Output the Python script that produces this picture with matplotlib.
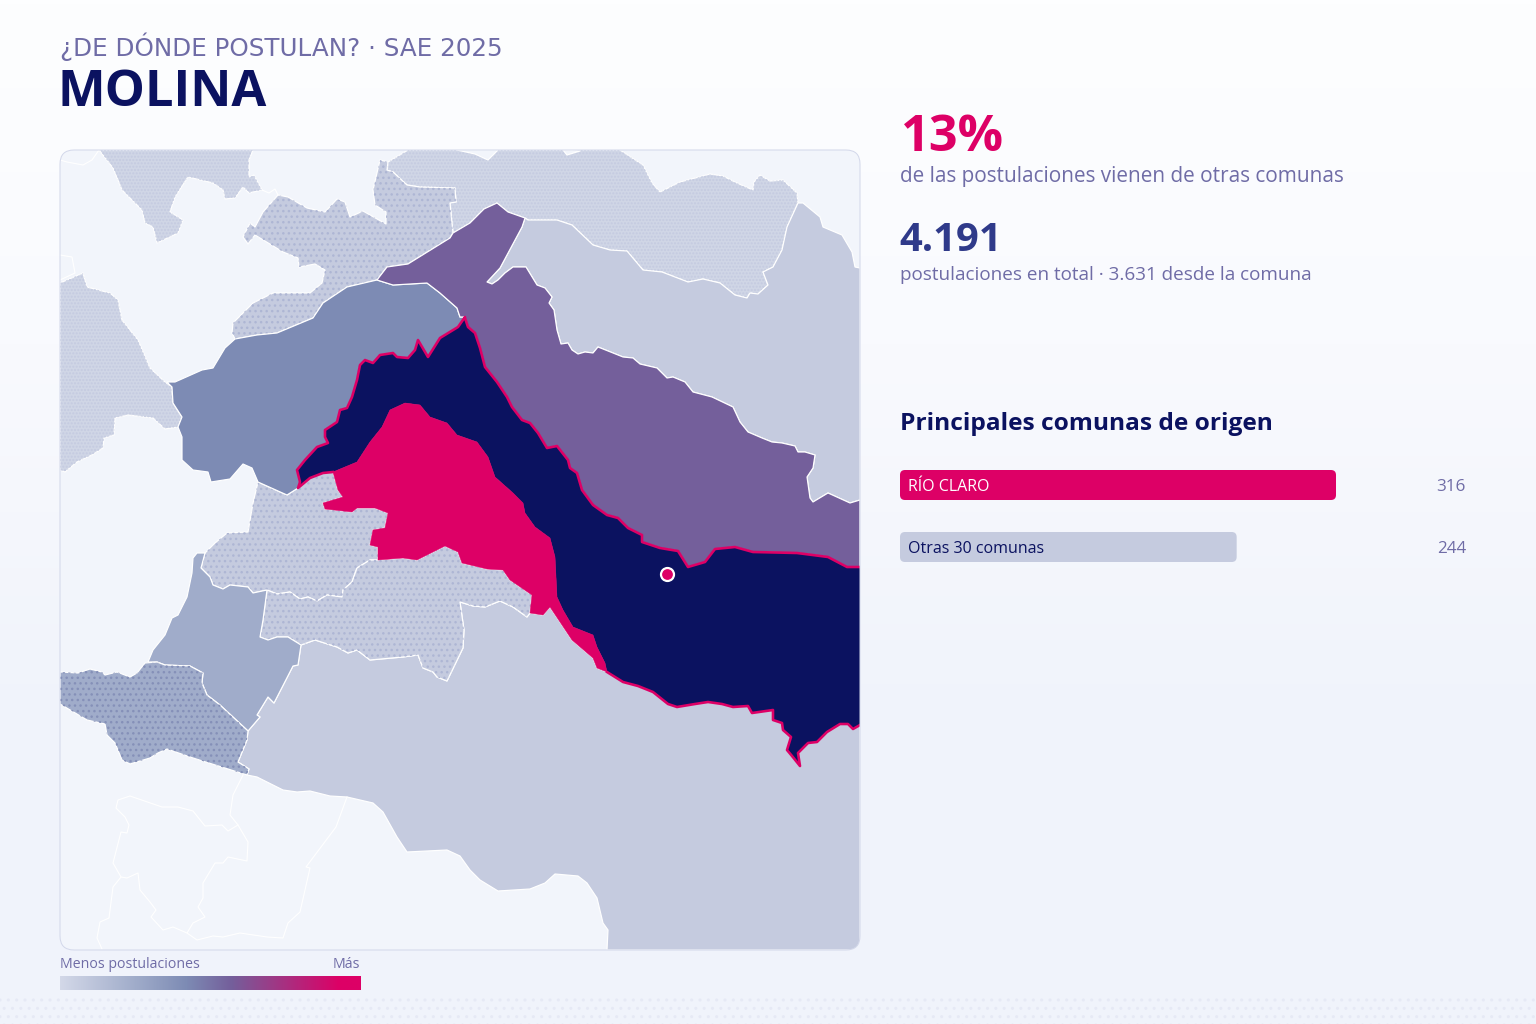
import matplotlib
matplotlib.use('Agg')
import matplotlib.pyplot as plt
import numpy as np
from matplotlib.patches import Polygon, FancyBboxPatch, Rectangle
from matplotlib.colors import LinearSegmentedColormap

# ── Datos ─────────────────────────────────────────────────────────────────────
origin_names = ['RÍO CLARO', 'Otras 30 comunas']
origin_values = [316, 244]
pct_outside = '13%'
total_apps = '4.191'
legend_stops = [(0, '#d3d8e8'), (0.25, '#a0acca'), (0.42, '#7d8bb4'), (0.57, '#745f9b'), (0.93, '#dd0066'), (1, '#dd0066')]

# Fronteras compartidas (coordenadas de imagen)
b_navy_purple = [(465,318),(468,327),(475,333),(480,348),(485,367),(497,382),(507,397),(512,407),(522,420),(530,423),
                 (538,433),(547,448),(557,446),(568,460),(570,468),(577,473),(582,490),(593,505),(607,515),(618,518),
                 (628,528),(642,535),(642,542),(660,548),(678,551),(688,567),(705,562),(715,549),(735,547),(753,552),
                 (797,553),(828,557),(847,567),(860,567)]
b_navy_blue = [(465,317),(458,327),(440,338),(428,357),(418,340),(415,350),(408,358),(397,357),(393,353),(380,355),
               (373,363),(365,360),(360,365),(357,380),(352,397),(347,408),(340,410),(337,422),(325,430),(325,437),
               (328,443),(317,447),(305,460),(297,470),(300,482),(298,488)]
b_navy_dotted = [(298,488),(310,478),(323,473),(333,472)]
b_navy_pink = [(333,472),(357,462),(370,442),(382,427),(390,410),(405,403),(420,405),(430,417),(447,423),(457,435),
               (477,442),(488,457),(495,477),(513,493),(523,503),(525,513),(535,527),(550,538),(555,557),(557,597),
               (563,610),(573,627),(593,635),(597,647),(605,663),(607,672)]
b_navy_bottom = [(607,672),(623,682),(638,686),(653,692),(668,704),(677,707),(695,704),(708,702),(722,704),(733,707),
                 (748,706),(752,713),(773,710),(773,720),(782,723),(783,730),(791,737),(787,750),(792,756),(800,766),
                 (798,753),(808,743),(817,742),(827,732),(840,724),(848,724),(853,729),(860,725)]
b_pink_dotted = [(333,472),(338,490),(343,497),(323,503),(325,509),(352,512),(357,508),(375,508),(388,513),(385,528),
                 (373,530),(370,545),(378,547),(378,560)]
b_pink_center = [(378,560),(403,558),(417,560),(433,552),(445,546),(458,552),(462,563),(487,569),(503,570),(510,580),
                 (532,595),(530,613)]
b_pink_big = [(530,613),(543,615),(550,607),(572,640),(593,658),(597,668),(607,672)]
b_center_big = [(530,613),(527,617),(513,607),(500,601),(485,607),(473,606),(460,602),(464,630),(463,648),(447,681),
                (437,677),(433,672),(423,668),(418,655),(403,657),(370,660),(357,650),(348,653),(337,647),(315,640),
                (301,645)]
b_center_mid = [(301,645),(288,637),(277,637),(268,640),(260,637),(263,620),(267,590)]
b_center_west = [(267,590),(277,594),(290,592),(300,599),(308,597),(317,601),(327,595),(342,597),(343,590),(352,582),
                 (357,568),(370,560),(378,560)]
b_west_mid = [(267,590),(253,593),(248,587),(230,585),(223,589),(213,585),(210,577),(201,568),(205,553)]
b_purple_right = [(860,500),(850,503),(828,493),(813,502),(810,498),(807,477),(813,468),(815,455),(805,452),(798,452),
                  (795,446),(782,443),(772,442),(762,438),(748,432),(740,422),(733,407),(712,397),(693,392),(685,382),
                  (673,377),(667,378),(657,368),(640,364),(633,358),(623,357),(598,347),(593,353),(585,352),(578,354),
                  (572,350),(568,343),(561,344),(557,330),(554,310),(549,303),(552,297),(545,288),(537,285),(526,267),
                  (513,267),(505,273),(498,280),(492,284),(487,282),(500,268),(522,227),(525,218)]
b_top_purple = [(525,218),(508,212),(497,203),(484,209),(470,223),(453,233)]
b_top_right = [(525,218),(528,220),(557,220),(572,225),(593,245),(610,250),(627,251),(643,270),(662,272),(688,282),
               (703,279),(720,283),(735,295),(747,298),(750,293),(758,294),(768,285),(763,272),(773,267),(782,250),
               (787,227),(798,203)]
b_upper_top = [(453,233),(450,203),(456,202),(455,188),(420,187),(407,185),(393,172),(387,170),(388,162)]
b_upper_purple = [(453,233),(450,238),(408,264),(387,267),(377,280)]
b_upper_blue = [(377,280),(347,287),(323,303),(313,318),(277,333),(257,335),(235,339)]
b_blue_purple = [(465,317),(460,317),(457,308),(440,293),(427,283),(393,285),(377,280)]
b_blue_west = [(258,482),(252,468),(243,464),(230,479),(211,482),(208,472),(193,470),(182,460),(182,437),(178,427),
               (182,417),(173,403),(172,387)]

rev = lambda b: b[::-1]

reg_top_left = [(99,150),(113,168),(122,190),(142,210),(145,223),(153,227),(157,243),(178,233),(183,220),(170,212),
                (175,197),(188,177),(213,183),(223,190),(225,199),(235,198),(243,187),(249,193),(262,190),(254,175),
                (249,177),(249,160),(253,150)]
reg_top = [(408,150),(388,162)] + rev(b_upper_top) + rev(b_top_purple) + b_top_right + \
          [(797,193),(783,180),(770,181),(760,175),(754,182),(753,190),(737,183),(723,176),(710,174),(680,182),
           (660,192),(652,183),(643,165),(620,150)]
reg_upper = [(278,195),(263,212),(255,227),(250,223),(243,237),(248,244),(255,235),(283,252),(298,258),(299,267),
             (315,264),(325,270),(322,283),(310,293),(273,293),(253,303),(233,323),(232,333),(235,339)] + \
            rev(b_upper_blue) + rev(b_upper_purple) + b_upper_top + \
            [(380,160),(373,190),(375,205),(386,212),(386,224),(363,211),(350,217),(345,202),(337,199),(325,212),
             (307,208),(288,197)]
reg_right = b_top_right + [(803,203),(820,217),(823,227),(842,235),(852,252),(855,267),(860,268)] + b_purple_right
reg_purple = b_purple_right + b_top_purple + b_upper_purple + rev(b_blue_purple) + b_navy_purple
reg_left = [(60,283),(83,273),(87,287),(110,293),(118,300),(122,320),(138,340),(150,368),(165,382),(172,387),(173,403),
            (182,417),(178,427),(165,429),(153,418),(128,415),(115,418),(114,435),(104,438),(103,448),(92,455),(77,462),
            (65,472),(60,470)]
reg_blue = b_upper_blue + [(225,348),(213,368),(202,370),(175,382),(167,382)] + rev(b_blue_west) + [(287,495)] + \
           rev(b_navy_blue) + b_blue_purple
reg_navy = b_navy_blue + b_navy_dotted + b_navy_pink + b_navy_bottom + rev(b_navy_purple)
reg_pink = b_pink_dotted + b_pink_center + b_pink_big + rev(b_navy_pink)
reg_west = [(258,482),(287,495)] + b_navy_dotted + b_pink_dotted + rev(b_center_west) + b_west_mid + \
           [(215,543),(227,533),(248,532),(253,503)]
reg_center = b_pink_center + b_center_big + b_center_mid + b_center_west
reg_mid = rev(b_west_mid) + rev(b_center_mid) + \
          [(298,665),(293,666),(274,703),(268,697),(257,715),(260,717),(248,731),(220,705),(207,695),(202,683),(203,673),
           (190,666),(165,665),(157,662),(148,662),(153,650),(165,635),(172,618),(178,615),(187,597),(192,573),(193,558),
           (197,553)]
reg_low_left = [(60,672),(78,673),(90,669),(102,672),(105,675),(117,672),(130,677),(137,673),(145,663),(157,662),(165,665),
                (190,666),(203,673),(202,683),(207,695),(220,705),(248,731),(247,740),(238,762),(249,769),(247,775),
                (193,758),(167,749),(158,753),(150,758),(130,764),(122,760),(115,743),(107,735),(105,724),(87,720),(60,704)]
reg_big = b_pink_big + b_navy_bottom + [(860,950),(607,950),(608,930),(603,923),(597,898),(587,883),(578,876),(555,874),
          (545,883),(530,889),(498,891),(480,880),(470,870),(460,856),(447,850),(407,852),(397,837),(383,812),(373,803),
          (347,797),(330,796),(310,791),(297,792),(283,790),(257,777),(247,775),(249,769),(238,762),(247,740),(248,731),
          (260,717),(257,715),(268,697),(274,703),(293,666),(298,665),(301,645)] + b_center_big[::-1]
reg_notch_a = [(457,150),(475,154),(488,160),(498,150)]
reg_notch_b = [(563,150),(567,155),(580,151)]

# Contornos de comunas sin postulaciones
outline_a = [(243,775),(233,795),(230,815),(238,825),(228,831),(222,825),(205,826),(193,811),(178,807),(162,807),(130,796),
             (118,800),(116,808),(125,817),(129,825),(127,833),(121,832),(113,863),(121,877),(127,878),(138,873),(140,890),
             (150,902),(156,910),(151,917),(163,930),(173,927),(187,933)]
outline_b = [(238,825),(248,842),(247,861),(228,857),(223,863),(215,863),(203,883),(203,898),(198,907),(205,917),(193,923),
             (187,933),(197,940),(213,936),(223,937),(240,933),(267,937),(283,938),(288,923),(300,912),(310,868),(306,867),
             (336,827),(347,797)]
outline_c = [(121,877),(113,887),(109,918),(100,922),(97,938),(102,949)]
outline_d = [(60,160),(67,162),(83,165),(92,160),(99,150)]
outline_e = [(262,190),(269,193),(275,189),(278,195)]
outline_f = [(60,255),(72,257),(75,273),(60,280)]

school_x, school_y = [667], [574]

# ── Estilo ────────────────────────────────────────────────────────────────────
plt.rcParams['font.family'] = ['Open Sans', 'DejaVu Sans']
NAVY = '#0b1260'
PINK = '#dd0066'
MUTED = '#6f6ca6'
LIGHT = '#c5cbdf'
PALE = '#d0d6e6'
MID = '#a0acca'
px = 0.72  # px -> pt a 100 dpi

fig = plt.figure(figsize=(15.36, 10.24), dpi=100)
ax = fig.add_axes([0, 0, 1, 1])
ax.set_xlim(0, 1536)
ax.set_ylim(1024, 0)
ax.axis('off')

# Fondo en degradado
grad = np.linspace(0, 1, 256).reshape(-1, 1)
bg_cmap = LinearSegmentedColormap.from_list('bg', ['#fdfeff', '#f9fafe', '#f1f4fb', '#f0f3fb'])
ax.imshow(grad, cmap=bg_cmap, extent=(0, 1536, 1024, 0), aspect='auto', zorder=0)
ax.add_patch(Rectangle((0, 994), 1536, 30, facecolor='none', edgecolor='#e6e9f5', lw=0, hatch='..', zorder=0.5))

# ── Mapa ──────────────────────────────────────────────────────────────────────
frame = FancyBboxPatch((60, 150), 800, 800, boxstyle='round,pad=0,rounding_size=14',
                       facecolor='#f2f5fb', edgecolor='none', zorder=1)
ax.add_patch(frame)

def region(pts, color, z, hatch=None, dot='#aeb6d4', edge='white', lw=1.2):
    p = Polygon(pts, closed=True, facecolor=color, edgecolor=edge, linewidth=lw * px, joinstyle='round', zorder=z)
    ax.add_patch(p)
    p.set_clip_path(frame)
    if hatch:
        h = Polygon(pts, closed=True, facecolor='none', edgecolor=dot, linewidth=0, hatch=hatch, zorder=z + 0.01)
        ax.add_patch(h)
        h.set_clip_path(frame)

region(reg_top_left, PALE, 2, hatch='.....', dot='#c4cae0')
region(reg_top, PALE, 2, hatch='.....', dot='#c4cae0')
region(reg_left, PALE, 2, hatch='.....', dot='#c4cae0')
region(reg_right, LIGHT, 2.1)
region(reg_big, LIGHT, 2.1)
region(reg_upper, LIGHT, 2.2, hatch='...')
region(reg_west, LIGHT, 2.2, hatch='...')
region(reg_center, LIGHT, 2.2, hatch='...')
region(reg_mid, MID, 2.3)
region(reg_low_left, MID, 2.3, hatch='...', dot='#8590b8')
region(reg_blue, '#7d8bb4', 2.4)
region(reg_purple, '#745f9b', 2.5)
region(reg_navy, NAVY, 2.6, edge=NAVY, lw=0.5)
region(reg_pink, PINK, 2.7, edge=PINK, lw=0.5)
region(reg_notch_a, '#f2f5fb', 2.75)
region(reg_notch_b, '#f2f5fb', 2.75)

for line in [outline_a, outline_b, outline_c, outline_d, outline_e, outline_f]:
    xs, ys = zip(*line)
    l, = ax.plot(xs, ys, color='white', lw=1.1 * px, zorder=2.8, solid_joinstyle='round')
    l.set_clip_path(frame)

# Borde magenta de la comuna
for line in [rev(b_navy_purple) + b_navy_blue + b_navy_dotted, b_navy_bottom]:
    xs, ys = zip(*line)
    l, = ax.plot(xs, ys, color=PINK, lw=2.6 * px, zorder=3, solid_joinstyle='round')
    l.set_clip_path(frame)

ax.scatter(school_x, school_y, s=(13 * px) ** 2, color=PINK, edgecolor='white', linewidth=2.2 * px, zorder=4)

ax.add_patch(FancyBboxPatch((60, 150), 800, 800, boxstyle='round,pad=0,rounding_size=14',
                            facecolor='none', edgecolor='#d3d8ea', linewidth=1.0 * px, zorder=5))

# Leyenda
leg_cmap = LinearSegmentedColormap.from_list('leg', legend_stops)
ax.imshow(np.linspace(0, 1, 256).reshape(1, -1), cmap=leg_cmap, extent=(60, 361, 990, 976), aspect='auto', zorder=2)
ax.set_xlim(0, 1536)
ax.set_ylim(1024, 0)
ax.text(60, 968, 'Menos postulaciones', fontsize=14.1 * px, color=MUTED, va='baseline')
ax.text(360, 968, 'Más', fontsize=14.1 * px, color=MUTED, va='baseline', ha='right')

# ── Textos ────────────────────────────────────────────────────────────────────
ax.text(60, 56, '¿DE DÓNDE POSTULAN? · SAE 2025', fontsize=24.6 * px, color=MUTED, va='baseline', family=['DejaVu Sans'])
ax.text(58, 106, 'MOLINA', fontsize=50.6 * px, color=NAVY, fontweight='bold', va='baseline')
ax.text(901, 151, pct_outside, fontsize=50.5 * px, color=PINK, fontweight='bold', va='baseline')
ax.text(900, 182, 'de las postulaciones vienen de otras comunas', fontsize=20.8 * px, color=MUTED, va='baseline')
ax.text(899, 251, total_apps, fontsize=40 * px, color='#2f3a8a', fontweight='bold', va='baseline')
ax.text(900, 280, 'postulaciones en total · 3.631 desde la comuna', fontsize=18.9 * px, color=MUTED, va='baseline')
ax.text(900, 430, 'Principales comunas de origen', fontsize=24.5 * px, color=NAVY, fontweight='bold', va='baseline')

# ── Barras ────────────────────────────────────────────────────────────────────
scale = 436 / origin_values[0]
bar_y = [470, 532]
bar_colors = [PINK, LIGHT]
label_colors = ['white', NAVY]
for name, val, y, c, tc in zip(origin_names, origin_values, bar_y, bar_colors, label_colors):
    ax.add_patch(FancyBboxPatch((900, y), val * scale, 30, boxstyle='round,pad=0,rounding_size=5',
                                facecolor=c, edgecolor='none', zorder=2))
    ax.text(908, y + 21, name, fontsize=16 * px, color=tc, va='baseline', zorder=3)
    ax.text(1466, y + 21, str(val), fontsize=17 * px, color=MUTED, va='baseline', ha='right', zorder=3)

fig.savefig('out.png', dpi=100)
